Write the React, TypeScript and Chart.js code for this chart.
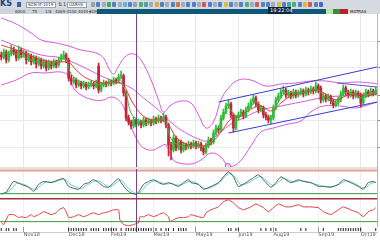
import React, { useEffect, useRef } from "react";
import { Chart, registerables } from "chart.js";
Chart.register(...registerables);

// ---------- DATA ----------
const opens = [
  35.9, 35.7, 36.2, 35.4, 36.0, 36.4, 36.2, 35.6, 36.4, 35.9,
  36.1, 35.4, 35.8, 35.2, 35.6, 35.0, 35.4, 34.8, 35.2, 34.6,
  35.1, 34.8, 35.2, 34.9, 35.4, 35.7, 35.9, 35.4, 33.6, 33.2,
  33.4, 32.9, 33.1, 32.8, 33.0, 32.7, 32.9, 33.0, 32.8, 34.8,
  32.4, 32.9, 33.1, 33.0, 33.2, 33.1, 33.4, 33.3, 33.7, 33.8,
  32.1, 29.6, 29.2, 28.8, 29.4, 29.0, 29.2, 28.9, 29.4, 29.1,
  29.3, 29.1, 29.5, 29.3, 29.6, 29.4, 29.7, 28.9, 26.9, 26.4,
  27.6, 26.6, 27.2, 26.4, 26.9, 26.7, 27.0, 26.8, 27.1, 26.8,
  27.0, 26.6, 26.2, 26.8, 27.4, 27.2, 28.1, 28.6, 28.4, 29.6,
  30.2, 30.8, 31.0, 29.9, 28.6, 29.6, 29.9, 30.2, 29.8, 30.4,
  30.8, 31.2, 31.6, 31.0, 30.4, 30.6, 29.9, 29.7, 29.4, 29.6,
  30.6, 31.4, 31.8, 32.2, 32.4, 31.9, 32.1, 31.8, 32.2, 31.9,
  32.1, 32.3, 32.0, 32.4, 32.2, 32.5, 32.3, 32.8, 32.6, 31.4,
  31.8, 31.5, 31.7, 31.3, 30.9, 31.1, 31.4, 32.0, 32.6, 32.2,
  31.9, 32.2, 31.8, 32.1, 31.9, 31.1, 31.8, 32.2, 32.0, 32.3,
  32.1,
];
const closes = [
  35.7, 36.2, 35.4, 36.0, 36.4, 36.2, 35.6, 36.4, 35.9, 36.1,
  35.4, 35.8, 35.2, 35.6, 35.0, 35.4, 34.8, 35.2, 34.6, 35.1,
  34.8, 35.2, 34.9, 35.4, 35.7, 35.9, 35.4, 33.6, 33.2, 33.4,
  32.9, 33.1, 32.8, 33.0, 32.7, 32.9, 33.0, 32.8, 33.1, 32.4,
  32.9, 33.1, 33.0, 33.2, 33.1, 33.4, 33.3, 33.7, 33.9, 32.1,
  29.6, 29.2, 28.8, 29.4, 29.0, 29.2, 28.9, 29.4, 29.1, 29.3,
  29.1, 29.5, 29.3, 29.6, 29.4, 29.7, 28.9, 26.9, 26.4, 27.6,
  26.6, 27.2, 26.4, 26.9, 26.7, 27.0, 26.8, 27.1, 26.8, 27.0,
  26.6, 26.2, 26.8, 27.4, 27.2, 28.1, 28.6, 28.4, 29.6, 30.2,
  30.8, 31.0, 29.9, 28.6, 29.6, 29.9, 30.2, 29.8, 30.4, 30.8,
  31.2, 31.6, 31.0, 30.4, 30.6, 29.9, 29.7, 29.4, 29.6, 30.6,
  31.4, 31.8, 32.2, 32.4, 31.9, 32.1, 31.8, 32.2, 31.9, 32.1,
  32.3, 32.0, 32.4, 32.2, 32.5, 32.3, 32.8, 32.4, 31.4, 31.8,
  31.5, 31.7, 31.3, 30.9, 31.1, 31.4, 32.0, 32.6, 32.2, 31.9,
  32.2, 31.8, 32.1, 31.9, 31.1, 31.8, 32.2, 32.0, 32.3, 32.1,
  32.4,
];
const highs = [
  36.2, 36.5, 36.4, 36.3, 36.9, 36.7, 36.4, 36.8, 36.6, 36.4,
  36.3, 36.1, 36.0, 35.9, 35.8, 35.7, 35.6, 35.5, 35.4, 35.4,
  35.3, 35.5, 35.4, 35.7, 36.0, 36.3, 36.1, 35.6, 33.9, 33.7,
  33.6, 33.4, 33.3, 33.3, 33.2, 33.2, 33.3, 33.2, 33.4, 35.1,
  33.2, 33.4, 33.3, 33.5, 33.4, 33.7, 33.6, 34.0, 34.3, 34.0,
  32.3, 29.9, 29.4, 29.7, 29.6, 29.5, 29.4, 29.7, 29.6, 29.6,
  29.5, 29.8, 29.7, 29.9, 29.8, 30.1, 29.9, 29.1, 27.2, 27.9,
  27.8, 27.5, 27.4, 27.2, 27.1, 27.3, 27.2, 27.4, 27.3, 27.3,
  27.2, 26.8, 27.1, 27.7, 27.6, 28.4, 28.9, 28.8, 29.9, 30.5,
  31.1, 31.4, 31.2, 30.1, 29.9, 30.2, 30.5, 30.4, 30.7, 31.1,
  31.5, 31.9, 31.8, 31.2, 30.9, 30.8, 30.2, 29.9, 29.9, 30.9,
  31.7, 32.1, 32.5, 32.8, 32.6, 32.4, 32.3, 32.5, 32.4, 32.4,
  32.6, 32.5, 32.7, 32.6, 32.8, 32.7, 33.2, 33.0, 32.8, 32.1,
  32.0, 32.0, 31.9, 31.5, 31.4, 31.7, 32.3, 32.9, 32.8, 32.4,
  32.5, 32.4, 32.4, 32.3, 32.1, 32.1, 32.5, 32.4, 32.6, 32.5,
  32.7,
];
const lows = [
  35.4, 35.5, 35.1, 35.2, 35.8, 35.9, 35.3, 35.4, 35.6, 35.7,
  35.0, 35.2, 34.9, 35.0, 34.6, 34.8, 34.5, 34.6, 34.3, 34.4,
  34.5, 34.6, 34.6, 34.7, 35.2, 35.5, 35.1, 33.3, 32.9, 33.0,
  32.6, 32.7, 32.5, 32.6, 32.4, 32.5, 32.7, 32.5, 32.6, 32.1,
  32.2, 32.7, 32.7, 32.8, 32.8, 32.9, 33.0, 33.1, 33.5, 31.8,
  29.3, 28.9, 28.5, 28.6, 28.7, 28.8, 28.6, 28.7, 28.8, 28.9,
  28.8, 28.9, 29.0, 29.1, 29.1, 29.2, 28.6, 25.8, 25.4, 26.2,
  26.3, 26.4, 26.1, 26.2, 26.4, 26.5, 26.5, 26.6, 26.5, 26.6,
  26.3, 25.9, 26.0, 26.6, 26.9, 27.0, 27.9, 28.1, 28.2, 29.4,
  30.0, 30.6, 29.6, 28.2, 28.4, 29.4, 29.7, 29.5, 29.6, 30.2,
  30.6, 31.0, 30.7, 30.1, 30.2, 29.6, 29.4, 29.1, 29.0, 29.4,
  30.4, 31.2, 31.6, 32.0, 31.6, 31.7, 31.5, 31.6, 31.6, 31.7,
  31.9, 31.7, 31.8, 31.9, 32.0, 32.0, 32.1, 32.1, 31.1, 31.2,
  31.2, 31.3, 31.0, 30.6, 30.7, 30.9, 31.2, 31.8, 31.9, 31.6,
  31.7, 31.5, 31.6, 31.6, 30.7, 30.9, 31.6, 31.7, 31.8, 31.8,
  31.9,
];

type P = [number, number];

// Bollinger bands (magenta) [candle index, price]
const upperBand: P[] = [
  [0, 39.6], [6, 39.0], [12, 38.1], [16, 37.4], [22, 37.1], [27, 36.8], [32, 36.4],
  [38, 36.1], [41, 35.6], [43, 34.6], [45, 34.0], [47, 34.8], [50, 35.8], [53, 36.0],
  [56, 35.4], [60, 33.4], [63, 31.4], [65, 30.2], [68, 30.9], [72, 31.3], [76, 31.1],
  [79, 29.9], [82, 28.6], [85, 29.2], [88, 31.4], [91, 32.6], [95, 33.4], [100, 33.4],
  [106, 32.8], [112, 33.0], [118, 33.1], [124, 33.3], [130, 33.3], [136, 33.1],
  [142, 33.2], [148, 33.1], [151, 33.0],
];
const middleBand: P[] = [
  [0, 37.4], [8, 36.6], [16, 35.9], [24, 35.6], [32, 34.8], [40, 33.8], [46, 33.2],
  [52, 32.6], [57, 31.6], [63, 30.4], [67, 29.4], [72, 28.4], [79, 27.5], [83, 27.3],
  [87, 28.0], [92, 29.0], [97, 29.6], [104, 30.4], [112, 30.8], [120, 31.2],
  [128, 31.6], [136, 31.8], [144, 31.9], [151, 32.0],
];
const lowerBand: P[] = [
  [0, 32.9], [6, 33.4], [12, 34.1], [18, 34.1], [24, 34.2], [27, 33.8], [29, 32.6],
  [32, 31.9], [37, 31.4], [41, 31.4], [44, 31.7], [47, 31.4], [49, 30.7], [51, 29.4],
  [54, 27.6], [57, 26.6], [61, 26.4], [64, 26.8], [66, 26.9], [68, 25.8], [70, 25.2],
  [76, 25.0], [80, 25.4], [84, 26.1], [88, 25.7], [91, 24.8], [95, 25.1], [100, 26.8],
  [104, 28.2], [109, 28.6], [115, 29.0], [120, 29.3], [124, 30.2], [129, 30.8],
  [136, 30.8], [142, 30.6], [148, 31.0], [151, 31.2],
];
// moving averages
const redMA: P[] = [
  [0, 36.9], [6, 36.4], [12, 35.8], [18, 35.3], [24, 35.2], [27, 35.2], [30, 34.4],
  [34, 33.6], [40, 33.1], [46, 33.2], [49, 32.9], [52, 31.4], [56, 30.0], [60, 29.4],
  [64, 29.4], [67, 28.9], [70, 27.7], [74, 27.0], [80, 26.8], [84, 27.1], [88, 28.2],
  [92, 29.5], [96, 29.8], [100, 30.5], [104, 30.8], [108, 30.3], [112, 31.1],
  [116, 31.8], [120, 32.1], [126, 32.4], [130, 32.0], [134, 31.4], [138, 31.8],
  [142, 32.0], [146, 31.8], [151, 32.1],
];
const greenMA: P[] = [
  [0, 36.0], [4, 36.1], [8, 35.8], [12, 35.4], [16, 35.1], [20, 35.0], [24, 35.5],
  [26, 35.4], [28, 34.0], [32, 33.2], [38, 33.0], [40, 32.9], [44, 33.2], [47, 33.6],
  [50, 32.1], [52, 30.1], [56, 29.2], [60, 29.2], [64, 29.5], [66, 29.2], [68, 27.5],
  [72, 26.8], [78, 26.9], [82, 26.7], [85, 27.6], [88, 29.2], [91, 30.6], [94, 29.8],
  [98, 30.1], [102, 31.2], [105, 30.4], [108, 29.7], [111, 31.2], [114, 32.1],
  [120, 32.1], [126, 32.5], [129, 31.9], [133, 31.2], [136, 31.8], [139, 32.2],
  [144, 31.6], [148, 32.1], [151, 32.2],
];
// trend channel (blue)
const channelUpper: P[] = [[87, 31.2], [150.5, 34.7]];
const channelLower: P[] = [[91, 28.1], [150.5, 31.2]];
const channelMid: P[] = [[134.5, 33.1], [150.5, 32.7]];
const alertMark: P[] = [[90.8, 24.8]];
const cursorIndex = 54.2;

// stochastic
const stochK: P[] = [
  [0, 13], [2, 20], [5, 57], [8, 47], [11, 37], [13, 23], [15, 47], [17, 57], [20, 53],
  [23, 63], [25, 67], [27, 40], [31, 30], [33, 47], [35, 53], [37, 63], [39, 53],
  [41, 40], [43, 37], [45, 53], [47, 67], [48, 53], [50, 30], [52, 17], [54, 13],
  [55, 20], [57, 47], [59, 57], [61, 63], [63, 53], [65, 47], [67, 53], [69, 47],
  [71, 40], [73, 53], [75, 63], [76, 53], [79, 47], [81, 30], [84, 40], [87, 53],
  [89, 73], [91, 90], [93, 73], [95, 40], [98, 53], [101, 70], [103, 80], [105, 63],
  [108, 37], [110, 53], [112, 73], [114, 63], [116, 53], [119, 63], [121, 57],
  [124, 53], [127, 40], [129, 40], [132, 37], [135, 47], [137, 63], [140, 53],
  [143, 40], [145, 30], [147, 53], [149, 57], [150, 53],
];
const stochD: P[] = [
  [0, 15], [3, 22], [6, 50], [9, 47], [12, 33], [14, 30], [16, 45], [18, 55], [21, 55],
  [24, 63], [26, 62], [28, 45], [32, 32], [34, 43], [36, 52], [38, 60], [40, 55],
  [42, 43], [44, 40], [46, 52], [48, 62], [50, 42], [52, 25], [54, 15], [56, 22],
  [58, 43], [60, 55], [62, 60], [64, 53], [66, 48], [68, 50], [70, 45], [72, 45],
  [74, 53], [76, 58], [78, 52], [80, 40], [82, 32], [85, 40], [88, 58], [90, 78],
  [92, 85], [94, 68], [96, 45], [99, 52], [102, 68], [104, 75], [106, 60], [109, 42],
  [111, 55], [113, 68], [115, 62], [117, 55], [120, 60], [122, 57], [125, 50],
  [128, 42], [130, 40], [133, 40], [136, 50], [138, 60], [141, 52], [144, 38],
  [146, 35], [148, 50], [150, 55],
];
const stochLevels = [95, 15];

// RSI-like oscillator
const rsi: P[] = [
  [0, 11], [1, 4], [3, 41], [5, 41], [7, 30], [8, 33], [10, 30], [12, 41], [13, 33],
  [15, 41], [17, 52], [20, 41], [22, 48], [23, 59], [25, 67], [26, 52], [27, 30],
  [29, 33], [31, 41], [33, 33], [35, 41], [37, 48], [39, 41], [41, 48], [43, 52],
  [45, 59], [47, 59], [47.5, 22], [49, 4], [51, 0], [53, 4], [55, 11], [55.5, 33],
  [57, 33], [59, 41], [61, 33], [63, 41], [65, 48], [67, 33], [67.5, 15], [69, 22],
  [71, 30], [73, 30], [75, 33], [76, 41], [79, 33], [81, 30], [82, 48], [84, 59],
  [87, 70], [89, 89], [91, 96], [93, 85], [95, 67], [97, 59], [100, 70], [102, 81],
  [105, 67], [107, 52], [109, 67], [111, 81], [114, 70], [116, 70], [119, 78],
  [121, 70], [124, 70], [127, 67], [129, 52], [132, 41], [135, 59], [137, 70],
  [140, 59], [143, 48], [145, 33], [147, 52], [149, 59], [150, 67],
];
const rsiLevels = [100, 15];

// time axis
const monthTicks = [9, 27, 44, 61, 78, 95, 109, 127, 144];
const monthLabels = ["Nov18", "Dec18", "Feb19", "Mar19", "May19", "Jun19", "Aug19", "Sep19", "Oct19"];
const eventMarks = [
  0, 2, 3, 5, 6, 27, 28, 29, 30, 31, 32, 33, 34, 36, 37, 38, 39, 41, 42, 43, 44, 45, 46,
  48, 50, 51, 52, 53, 54, 55, 56, 57, 58, 59, 60, 62, 64, 66, 67, 69, 71, 72, 73, 74,
  91, 92, 94, 95, 104, 106, 108, 110, 120, 122, 129, 135, 136, 137, 138, 139, 140,
  141, 142, 143, 144, 150,
];
const priceGrid = [37.2, 34.6, 31.9, 29.3, 26.6];

// toolbar decoration
const toolbarIcons = [
  "#8a96a6", "#3b6fc4", "#9aa3ae", "#2f9b4e", "#3b6fc4", "#9aa3ae", "#5aa6e0", "#3b6fc4",
  "#8a96a6", "#3aa35a", "#2e9aa0", "#9aa3ae", "#e0a030", "#3b6fc4", "#9aa3ae", "#3b6fc4",
  "#d85a30", "#9aa3ae", "#3b6fc4", "#3b6fc4", "#9aa3ae", "#d04040", "#3b6fc4", "#9aa3ae",
  "#3b6fc4", "#e0b030", "#3b6fc4", "#9aa3ae", "#3b6fc4", "#3aa35a", "#9aa3ae", "#d04040",
  "#3b6fc4", "#3b6fc4", "#9aa3ae", "#e0b030", "#3b6fc4", "#2e9aa0", "#3aa35a", "#3b6fc4",
  "#e0b030", "#d04040", "#3b6fc4", "#3b4fc4",
];

// ---------- CHART HELPERS ----------
const N = closes.length;
const X_MIN = -0.5;
const X_MAX = N - 0.5;
const UP = "#2fbf3a";
const DOWN = "#c8213c";
const MAGENTA = "#d45ad8";
const BLUE = "#3b3bd2";
const CURSOR = "#6b3d7d";

const pts = (a: P[]) => a.map(([x, y]) => ({ x, y }));
const line = (data: any[], color: string, width = 1, tension = 0.35, order = 1) => ({
  type: "line" as const,
  data,
  borderColor: color,
  borderWidth: width,
  pointRadius: 0,
  tension,
  fill: false,
  order,
});
const hline = (y: number, color: string, width = 1) =>
  line([{ x: X_MIN, y }, { x: X_MAX, y }], color, width, 0, 3);
const vline = (lo: number, hi: number) =>
  line([{ x: cursorIndex, y: lo }, { x: cursorIndex, y: hi }], CURSOR, 1, 0, 0);

const xScale = (grid: string) => ({
  type: "linear" as const,
  min: X_MIN,
  max: X_MAX,
  offset: false,
  afterBuildTicks: (s: any) => {
    s.ticks = monthTicks.map((v) => ({ value: v }));
  },
  ticks: { display: false },
  grid: { color: grid, drawTicks: false, offset: false },
  border: { display: false },
});
const yScale = (min: number, max: number, ticks: number[]) => ({
  type: "linear" as const,
  position: "right" as const,
  min,
  max,
  afterBuildTicks: (s: any) => {
    s.ticks = ticks.map((v) => ({ value: v }));
  },
  ticks: { display: false },
  grid: { color: "#ebebeb", drawTicks: true, tickLength: 3, tickColor: "#8a8a8a" },
  border: { display: true, color: "#b8b8b8" },
});
const common = {
  animation: false as const,
  responsive: false,
  maintainAspectRatio: false,
  events: [] as any[],
  layout: { padding: 0, autoPadding: false },
  plugins: { legend: { display: false }, tooltip: { enabled: false } },
};

const candleColor = (i: number) => (closes[i] >= opens[i] ? UP : DOWN);

export default function App() {
  const mainRef = useRef<HTMLCanvasElement>(null);
  const stochRef = useRef<HTMLCanvasElement>(null);
  const rsiRef = useRef<HTMLCanvasElement>(null);
  const axisRef = useRef<HTMLCanvasElement>(null);

  useEffect(() => {
    const charts: Chart[] = [];
    const PMIN = 24.5;
    const PMAX = 40.0;

    charts.push(
      new Chart(mainRef.current!, {
        type: "bar",
        data: {
          datasets: [
            line(pts(upperBand), MAGENTA, 1, 0.4, 6),
            line(pts(middleBand), MAGENTA, 1, 0.4, 6),
            line(pts(lowerBand), MAGENTA, 1, 0.4, 6),
            {
              type: "bar",
              data: closes.map((_, i) => ({ x: i, y: [lows[i], highs[i]] })),
              backgroundColor: (c: any) => candleColor(c.dataIndex),
              barThickness: 1,
              grouped: false,
              order: 5,
            } as any,
            {
              type: "bar",
              data: closes.map((_, i) => ({ x: i, y: [opens[i], closes[i]] })),
              backgroundColor: (c: any) => candleColor(c.dataIndex),
              barThickness: 2,
              minBarLength: 1,
              grouped: false,
              order: 4,
            } as any,
            line(pts(redMA), "#e23a2e", 1, 0.35, 3),
            line(pts(greenMA), "#3fb54a", 1, 0.35, 2),
            line(pts(channelUpper), BLUE, 1, 0, 2),
            line(pts(channelLower), BLUE, 1, 0, 2),
            line(pts(channelMid), "#5a4fd0", 1, 0, 2),
            vline(PMIN, PMAX),
            {
              type: "line",
              data: pts(alertMark),
              showLine: false,
              pointRadius: 2.6,
              pointStyle: "circle",
              pointBorderColor: "#d050d0",
              pointBackgroundColor: "#f6d0f6",
              pointBorderWidth: 1,
              clip: false,
              order: 0,
            } as any,
          ],
        },
        options: {
          ...common,
          scales: { x: xScale("#e8e8e8"), y: yScale(PMIN, PMAX, priceGrid) },
        } as any,
      })
    );

    charts.push(
      new Chart(stochRef.current!, {
        type: "line",
        data: {
          datasets: [
            hline(stochLevels[0], "#ec9c9c", 2),
            hline(stochLevels[1], "#3a9a3a", 1),
            line(pts(stochD), "#4fd3c6", 1, 0.2, 2),
            line(pts(stochK), "#555a5a", 1, 0.2, 1),
            vline(0, 100),
          ] as any,
        },
        options: { ...common, scales: { x: xScale("#f0f0f0"), y: yScale(0, 100, []) } } as any,
      })
    );

    charts.push(
      new Chart(rsiRef.current!, {
        type: "line",
        data: {
          datasets: [
            hline(rsiLevels[0], "#a8323a", 1.5),
            hline(rsiLevels[1], "#3a9a3a", 1),
            line(pts(rsi), "#e03a3a", 1, 0.1, 1),
            vline(-5, 103),
          ] as any,
        },
        options: { ...common, scales: { x: xScale("#f0f0f0"), y: yScale(-5, 103, []) } } as any,
      })
    );

    charts.push(
      new Chart(axisRef.current!, {
        type: "scatter",
        data: {
          datasets: [
            {
              data: eventMarks.map((x) => ({ x, y: 1 })),
              pointStyle: "line",
              rotation: 90,
              pointRadius: 1.5,
              borderColor: "#222",
              borderWidth: 1,
            },
            vline(0, 2),
          ] as any,
        },
        options: {
          ...common,
          layout: { padding: { bottom: 3, right: 3 }, autoPadding: false },
          scales: {
            x: {
              type: "linear",
              min: X_MIN,
              max: X_MAX,
              offset: false,
              afterBuildTicks: (s: any) => {
                s.ticks = monthTicks.map((v) => ({ value: v }));
              },
              ticks: {
                display: true,
                autoSkip: false,
                maxRotation: 0,
                align: "start",
                padding: 0,
                color: "#555",
                font: { size: 5, family: "DejaVu Sans" },
                callback: (_v: any, i: number) => monthLabels[i] ?? "",
              },
              grid: { color: "#9a9a9a", drawTicks: false },
              border: { display: true, color: "#cccccc" },
            },
            y: { display: false, min: 0, max: 2 },
          },
        } as any,
      })
    );

    return () => charts.forEach((c) => c.destroy());
  }, []);

  const tiny: React.CSSProperties = {
    position: "absolute",
    fontFamily: "DejaVu Sans, sans-serif",
    whiteSpace: "nowrap",
    lineHeight: 1,
  };

  return (
    <div
      style={{
        position: "fixed",
        left: 0,
        top: 0,
        width: 380,
        height: 240,
        overflow: "hidden",
        background: "#fff",
      }}
    >
      {/* toolbar row 1 */}
      <div style={{ position: "absolute", left: 0, top: 0, width: 380, height: 9, background: "#d5dae0" }}>
        <span style={{ ...tiny, left: 0, top: 0, fontSize: 8, fontWeight: "bold", color: "#1f3f86" }}>KS</span>
        <div style={{ position: "absolute", left: 17, top: 2, width: 4, height: 5, background: "#3b5fa8" }} />
        <div style={{ position: "absolute", left: 26, top: 1.5, width: 30, height: 6, background: "#fff", border: "1px solid #9aa4ae", boxSizing: "border-box" }}>
          <span style={{ ...tiny, left: 1, top: 0.5, fontSize: 4, color: "#334" }}>SGN-IE-2019</span>
        </div>
        <span style={{ ...tiny, left: 58, top: 1.5, fontSize: 5, color: "#345" }}>⇅</span>
        <span style={{ ...tiny, left: 63, top: 1.5, fontSize: 5, color: "#345" }}>1</span>
        <div style={{ position: "absolute", left: 67, top: 1.5, width: 20, height: 6, background: "#fff", border: "1px solid #9aa4ae", boxSizing: "border-box" }}>
          <span style={{ ...tiny, left: 1, top: 0.5, fontSize: 4, color: "#334" }}>UARHS</span>
        </div>
        {toolbarIcons.map((c, i) => (
          <div
            key={i}
            style={{
              position: "absolute",
              left: 91 + i * 5.3,
              top: 2,
              width: 4,
              height: 4.5,
              borderRadius: 1,
              background: c,
              opacity: 0.85,
            }}
          />
        ))}
      </div>
      {/* toolbar row 2 */}
      <div style={{ position: "absolute", left: 0, top: 9, width: 97, height: 5, background: "#cdd3d9" }}>
        <span style={{ ...tiny, left: 15, top: 0.5, fontSize: 4, color: "#333" }}>6000</span>
        <span style={{ ...tiny, left: 32, top: 0.5, fontSize: 4, color: "#333" }}>75</span>
        <span style={{ ...tiny, left: 45, top: 0.5, fontSize: 4, color: "#333" }}>1/8</span>
        <span style={{ ...tiny, left: 55, top: 0.5, fontSize: 4, color: "#333" }}>4069 4100 4049 4097</span>
        <span style={{ ...tiny, left: 89, top: 0.5, fontSize: 4, color: "#333" }}>▾</span>
      </div>
      <div style={{ position: "absolute", left: 97, top: 9, width: 229, height: 5, background: "#0e5878" }} />
      <div style={{ position: "absolute", left: 268, top: 7, width: 23, height: 7, background: "#0b2740" }}>
        <span style={{ ...tiny, left: 2, top: 1, fontSize: 5, color: "#fff" }}>19:22:04</span>
      </div>
      <div style={{ position: "absolute", left: 326, top: 9, width: 7, height: 5, background: "#bfe3a8" }} />
      <div style={{ position: "absolute", left: 333, top: 9, width: 7, height: 5, background: "#3a8f3a" }} />
      <div style={{ position: "absolute", left: 340, top: 9, width: 8, height: 5, background: "#b3242a" }} />
      <div style={{ position: "absolute", left: 348, top: 9, width: 32, height: 5, background: "#d8dce1" }}>
        <span style={{ ...tiny, left: 2, top: 0.5, fontSize: 4, color: "#222" }}>MATRAS</span>
      </div>

      {/* panels */}
      <canvas ref={mainRef} width={380} height={155} style={{ position: "absolute", left: 0, top: 14 }} />
      <div style={{ position: "absolute", left: 0, top: 167, width: 377, height: 2, background: "#dfe6da" }} />
      <canvas ref={stochRef} width={380} height={29} style={{ position: "absolute", left: 0, top: 169 }} />
      <canvas ref={rsiRef} width={380} height={29} style={{ position: "absolute", left: 0, top: 198 }} />
      <canvas ref={axisRef} width={380} height={13} style={{ position: "absolute", left: 0, top: 227 }} />
    </div>
  );
}
